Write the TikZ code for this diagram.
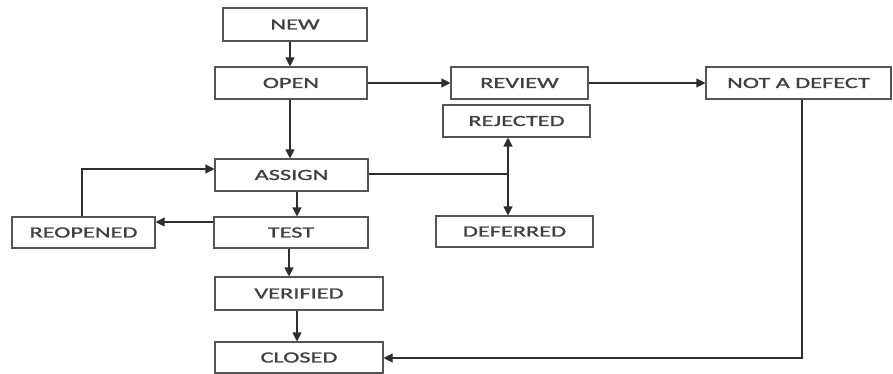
\documentclass[tikz,border=0pt]{standalone}
\usepackage{fontspec}
\setmainfont[FakeStretch=1.57,FakeBold=1.2]{Carlito}
\usetikzlibrary{arrows.meta}
\definecolor{linec}{HTML}{2E2E2E}
\definecolor{boxc}{HTML}{555555}
\definecolor{txtc}{HTML}{404040}
\begin{document}
\begin{tikzpicture}[x=1pt,y=-1pt,
  state/.style={draw=boxc, line width=1.1pt, rectangle, inner sep=0pt, text=txtc,
    minimum height=32pt, font=\fontsize{15.5}{17}\selectfont},
  arr/.style={draw=linec, line width=1.1pt, -{Triangle[length=9pt,width=9pt]}},
  darr/.style={draw=linec, line width=1.1pt, {Triangle[length=9pt,width=9pt]}-{Triangle[length=9pt,width=9pt]}},
  ln/.style={draw=linec, line width=1.1pt}]
\useasboundingbox (0,0) rectangle (893,374);
\fill[white] (0,0) rectangle (893,374);

\node[state, minimum width=144pt, minimum height=33pt] (new) at (295,24.5) {NEW};
\node[state, minimum width=152pt] (open) at (291,83) {OPEN};
\node[state, minimum width=137pt] (review) at (519.5,83) {REVIEW};
\node[state, minimum width=147pt] (rejected) at (516.5,121) {REJECTED};
\node[state, minimum width=185pt] (nad) at (798.5,83) {NOT A DEFECT};
\node[state, minimum width=153pt] (assign) at (291.5,175) {ASSIGN};
\node[state, minimum width=143pt, minimum height=31pt] (reopened) at (83.5,232.5) {REOPENED};
\node[state, minimum width=154pt, minimum height=31pt] (test) at (291,232.5) {TEST};
\node[state, minimum width=157pt, minimum height=31pt] (deferred) at (514.5,231.5) {DEFERRED};
\node[state, minimum width=168pt, minimum height=33pt] (verified) at (299,293.5) {VERIFIED};
\node[state, minimum width=168pt, minimum height=31pt] (closed) at (299,357.5) {CLOSED};

\coordinate (c290) at (290,0);
\coordinate (c289) at (289,0);
\coordinate (c297) at (297,0);
\coordinate (c82) at (82,0);
\coordinate (c508) at (508,0);
\coordinate (c802) at (802,0);
\coordinate (r169) at (0,169);
\coordinate (r174) at (0,174);
\coordinate (r222) at (0,222);
\coordinate (r358) at (0,358);
\coordinate (junc) at (508,174);

\draw[arr] (new.south -| c290) -- (open.north -| c290);
\draw[arr] (open.east) -- (review.west);
\draw[arr] (review.east) -- (nad.west);
\draw[arr] (open.south -| c290) -- (assign.north -| c290);
\draw[ln] (assign.east |- r174) -- (junc);
\draw[darr] (rejected.south -| c508) -- (deferred.north -| c508);
\draw[arr] (reopened.north -| c82) |- (assign.west |- r169);
\draw[arr] (test.west |- r222) -- (reopened.east |- r222);
\draw[arr] (assign.south -| c297) -- (test.north -| c297);
\draw[arr] (test.south -| c289) -- (verified.north -| c289);
\draw[arr] (verified.south -| c297) -- (closed.north -| c297);
\draw[arr] (nad.south -| c802) |- (closed.east |- r358);
\end{tikzpicture}
\end{document}
